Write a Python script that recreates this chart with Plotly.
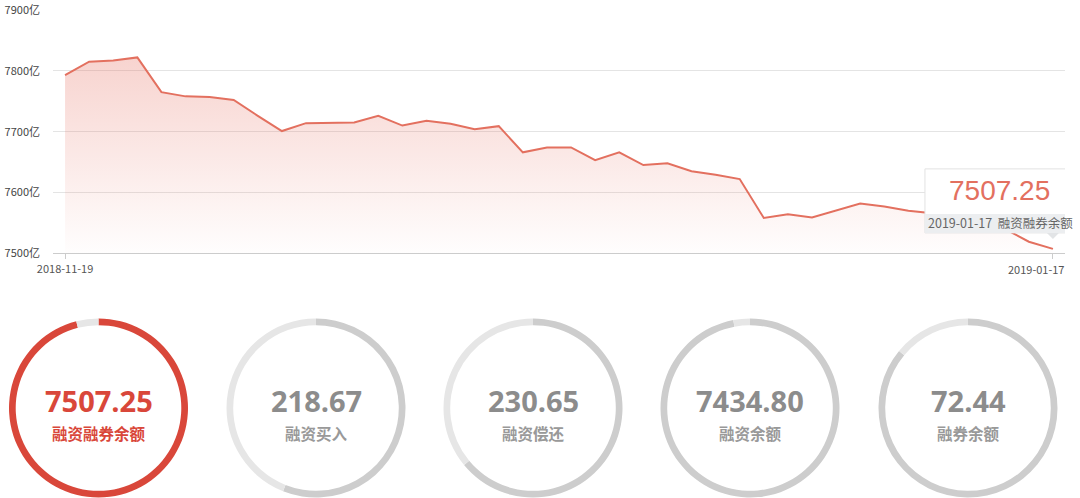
import plotly.graph_objects as go

# ---------------- data ----------------
dates = [
    "2018-11-19", "2018-11-20", "2018-11-21", "2018-11-22", "2018-11-23",
    "2018-11-26", "2018-11-27", "2018-11-28", "2018-11-29", "2018-11-30",
    "2018-12-03", "2018-12-04", "2018-12-05", "2018-12-06", "2018-12-07",
    "2018-12-10", "2018-12-11", "2018-12-12", "2018-12-13", "2018-12-14",
    "2018-12-17", "2018-12-18", "2018-12-19", "2018-12-20", "2018-12-21",
    "2018-12-24", "2018-12-25", "2018-12-26", "2018-12-27", "2018-12-28",
    "2019-01-02", "2019-01-03", "2019-01-04",
    "2019-01-07", "2019-01-08", "2019-01-09", "2019-01-10", "2019-01-11",
    "2019-01-14", "2019-01-15", "2019-01-16", "2019-01-17",
]
balance = [
    7793, 7815, 7817, 7822, 7765, 7758, 7757, 7752, 7726, 7701,
    7714, 7714, 7715, 7726, 7710, 7718, 7713, 7704, 7709, 7666,
    7674, 7674, 7653, 7666, 7645, 7648, 7635, 7629, 7622, 7558,
    7564, 7559, 7571, 7582, 7577, 7570, 7566, 7561, 7552, 7540,
    7519, 7507.25,
]
y_ticks = [7500, 7600, 7700, 7800, 7900]
y_unit = "亿"
series_name = "融资融券余额"

ring_values = [7507.25, 218.67, 230.65, 7434.80, 72.44]
ring_labels = ["融资融券余额", "融资买入", "融资偿还", "融资余额", "融券余额"]
ring_share = [96, 56, 64, 97, 86]   # percent of ring filled

# ---------------- styles ----------------
W, H = 1080, 498
LINE = "#e3705f"
RED = "#d9473a"
font_cjk = "Noto Sans CJK SC"

fig = go.Figure()

fig.add_trace(go.Scatter(
    x=dates, y=balance, mode="lines",
    line=dict(color=LINE, width=2),
    fill="tozeroy",
    fillgradient=dict(
        type="vertical", start=y_ticks[0], stop=max(balance),
        colorscale=[[0, "rgba(230,110,95,0.01)"], [1, "rgba(230,110,95,0.30)"]],
    ),
    hoverinfo="skip", showlegend=False,
))

# rings
centers = [98.5, 316, 533, 750, 968]
R = 89.5
ring_cy = 408  # px from top
for i, (v, lab, sh) in enumerate(zip(ring_values, ring_labels, ring_share)):
    cx = centers[i]
    main = RED if i == 0 else "#cdcdcd"
    rest = "#e6e6e6"
    fig.add_trace(go.Pie(
        values=[sh, 100 - sh], sort=False, direction="clockwise", rotation=0,
        hole=0.925, textinfo="none", hoverinfo="skip", showlegend=False,
        marker=dict(colors=[main, rest], line=dict(width=0)),
        domain=dict(x=[(cx - R) / W, (cx + R) / W],
                    y=[(H - ring_cy - R) / H, (H - ring_cy + R) / H]),
    ))
    txtc = RED if i == 0 else "#8c8c8c"
    fig.add_annotation(
        x=cx / W, y=(H - 400) / H, xref="paper", yref="paper",
        text=f"<b>{v:.2f}</b>", showarrow=False,
        font=dict(family="Open Sans", size=29, color=txtc),
        xanchor="center", yanchor="middle",
    )
    fig.add_annotation(
        x=cx / W, y=(H - 433) / H, xref="paper", yref="paper",
        text=f"<b>{lab}</b>", showarrow=False,
        font=dict(family=font_cjk, size=15.5, color=txtc if i == 0 else "#999999"),
        xanchor="center", yanchor="middle",
    )

# last x label (kept inside the page)
fig.add_annotation(
    x=dates[-1], y=y_ticks[0], xref="x", yref="y",
    text=dates[-1], showarrow=False, xanchor="right", yanchor="top",
    xshift=13, yshift=-6,
    font=dict(family=font_cjk, size=11, color="#555555"),
)

# tooltip
last_x, last_y = dates[-1], balance[-1]
fig.add_shape(type="rect", xref="x", yref="y", xsizemode="pixel", ysizemode="pixel",
              xanchor=last_x, yanchor=last_y, x0=-128, x1=24, y0=16, y1=80,
              fillcolor="white", line=dict(color="#e2e2e2", width=1), layer="above")
fig.add_shape(type="rect", xref="x", yref="y", xsizemode="pixel", ysizemode="pixel",
              xanchor=last_x, yanchor=last_y, x0=-128, x1=24, y0=16, y1=35,
              fillcolor="#eceef0", line=dict(width=0), layer="above")
fig.add_shape(type="path", xref="x", yref="y", xsizemode="pixel", ysizemode="pixel",
              xanchor=last_x, yanchor=last_y,
              path="M -6 16 L 6 16 L 0 10 Z",
              fillcolor="#e2e4e6", line=dict(width=0), layer="above")
fig.add_annotation(
    x=last_x, y=last_y, xref="x", yref="y", text=f"{last_y:.2f}", showarrow=False,
    xanchor="center", yanchor="middle", xshift=-53, yshift=58,
    font=dict(family="Liberation Sans", size=28, color=LINE),
)
fig.add_annotation(
    x=last_x, y=last_y, xref="x", yref="y",
    text=f"{last_x}&nbsp;&nbsp;{series_name}", showarrow=False,
    xanchor="left", yanchor="middle", xshift=-127, yshift=26,
    font=dict(family=font_cjk, size=12.5, color="#666666"),
)

fig.update_layout(
    template="none",
    width=W, height=H,
    margin=dict(l=0, r=0, t=0, b=0),
    paper_bgcolor="white", plot_bgcolor="white",
    showlegend=False, hovermode=False,
    xaxis=dict(
        type="category", domain=[53 / W, 1065 / W], range=[-0.5, len(dates) - 0.5],
        showgrid=False, zeroline=False, showline=True, linecolor="#cccccc", linewidth=1,
        tickvals=[dates[0], dates[-1]], ticktext=[dates[0], ""],
        ticks="outside", ticklen=5, tickcolor="#cccccc", tickwidth=1,
        tickfont=dict(family=font_cjk, size=11, color="#555555"),
        automargin=False, fixedrange=True,
    ),
    yaxis=dict(
        domain=[(H - 253.3) / H, (H - 10) / H], range=[y_ticks[0], y_ticks[-1]],
        tickmode="array", tickvals=y_ticks, ticktext=[f"{v}{y_unit}" for v in y_ticks],
        showgrid=True, gridcolor="#e4e4e4", gridwidth=1, zeroline=False, showline=False,
        ticks="", ticklabelstandoff=12,
        tickfont=dict(family=font_cjk, size=11, color="#444444"),
        automargin=False, fixedrange=True,
    ),
)

fig.write_html("out.html", config={"displayModeBar": False},
               post_script="document.body.style.margin='0';")
